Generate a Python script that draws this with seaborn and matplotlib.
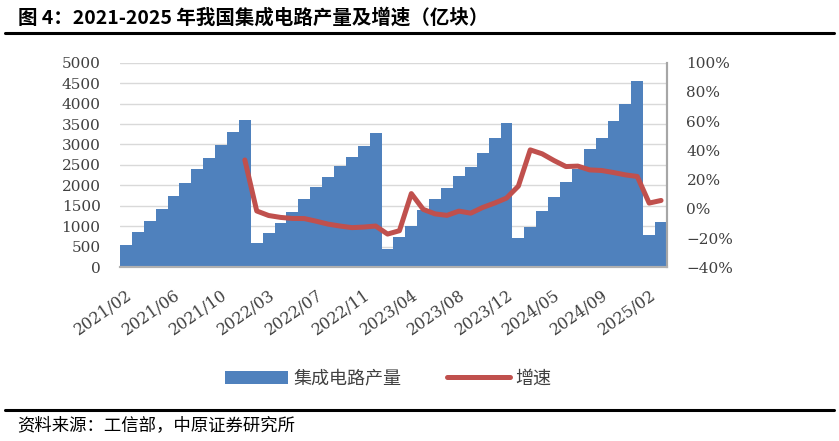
import numpy as np
import pandas as pd
import matplotlib
matplotlib.use('Agg')
import matplotlib.pyplot as plt
from matplotlib.lines import Line2D
from matplotlib.patches import Patch
from matplotlib.ticker import FuncFormatter, MultipleLocator
import seaborn as sns

# months (Jan merged into Feb, as in the MIIT data)
months = ([f"2021/{m:02d}" for m in range(2, 13)] +
          [f"2022/{m:02d}" for m in range(2, 13)] +
          [f"2023/{m:02d}" for m in range(2, 13)] +
          [f"2024/{m:02d}" for m in range(2, 13)] +
          ["2025/02", "2025/03"])

# cumulative output, 100 million units
output = [550, 850, 1140, 1430, 1750, 2050, 2400, 2680, 2980, 3300, 3600,
          600, 830, 1090, 1345, 1660, 1970, 2215, 2485, 2705, 2970, 3275,
          450, 735, 1015, 1400, 1670, 1930, 2230, 2460, 2785, 3150, 3535,
          725, 995, 1385, 1725, 2090, 2410, 2885, 3165, 3575, 3990, 4545,
          790, 1115]

# cumulative growth, %, only from 2021/12
growth = ([None] * 10 + [33.4] +
          [-1.5, -4.6, -5.9, -6.6, -6.7, -8.5, -10.5, -11.8, -12.9, -12.5, -11.8] +
          [-17.3, -15.0, 10.4, -0.4, -3.5, -4.5, -1.6, -3.0, 0.9, 3.9, 7.3] +
          [15.5, 40.3, 37.6, 33.0, 28.9, 29.2, 26.6, 26.2, 24.8, 23.2, 22.1] +
          [3.9, 5.7])

tick_labels = ["2021/02", "2021/06", "2021/10", "2022/03", "2022/07", "2022/11",
               "2023/04", "2023/08", "2023/12", "2024/05", "2024/09", "2025/02"]

BLUE = '#4F81BD'
RED = '#C0504D'
TXT = '#404040'
SERIF = ['DejaVu Serif']
CJK = ['Noto Sans CJK SC', 'DejaVu Sans']

sns.set_style('white')
plt.rcParams['font.family'] = CJK

df = pd.DataFrame({'month': months, 'output': output, 'growth': growth})
df['pos'] = np.arange(len(df))
line_df = df.dropna(subset=['growth'])

fig = plt.figure(figsize=(8.39, 4.41), dpi=100)
ax = fig.add_axes([0.143, 0.394, 0.652, 0.464])

sns.barplot(data=df, x='month', y='output', color=BLUE, width=1.0,
            linewidth=0, saturation=1, ax=ax, zorder=2)
ax.set_ylim(0, 5000)
ax.yaxis.set_major_locator(MultipleLocator(500))
ax.set_xlim(-0.5, len(months) - 0.5)
ax.grid(axis='y', color='#d9d9d9', linewidth=1.0, zorder=0)
ax.set_axisbelow(True)
ax.set_xlabel('')
ax.set_ylabel('')

# x ticks every 4 months
tick_pos = [months.index(t) for t in tick_labels]
ax.set_xticks(tick_pos)
ax.set_xticklabels(tick_labels, rotation=35, ha='right', rotation_mode='anchor',
                   family=SERIF, fontsize=11.5, color=TXT)
ax.tick_params(axis='x', length=0, pad=14)
ax.tick_params(axis='y', length=0, pad=14, labelsize=11, labelcolor=TXT)
for lab in ax.get_yticklabels():
    lab.set_family(SERIF)

ax2 = ax.twinx()
sns.lineplot(data=line_df, x='pos', y='growth', color=RED, linewidth=3.6,
             ax=ax2, solid_joinstyle='round', solid_capstyle='round', zorder=3)
ax2.set_ylim(-40, 100)
ax2.yaxis.set_major_locator(MultipleLocator(20))
ax2.yaxis.set_major_formatter(FuncFormatter(lambda v, p: f"{v:.0f}%".replace('-', '\u2212')))
ax2.tick_params(axis='y', length=0, pad=14, labelsize=11, labelcolor=TXT)
for lab in ax2.get_yticklabels():
    lab.set_family(SERIF)
ax2.set_ylabel('')
ax2.set_xlabel('')
ax2.set_xlim(-0.5, len(months) - 0.5)

for a in (ax, ax2):
    for s in ('top', 'left'):
        a.spines[s].set_visible(False)
    a.spines['bottom'].set_color('#b0b0b0')
    a.spines['right'].set_color('#a6a6a6')
    a.spines['bottom'].set_linewidth(1.5)
    a.spines['right'].set_linewidth(1.5)
ax2.grid(False)

# legend
handles = [Patch(facecolor=BLUE, edgecolor='none', label='集成电路产量'),
           Line2D([], [], color=RED, linewidth=3.6, solid_capstyle='round', label='增速')]
fig.legend(handles=handles, loc='center', bbox_to_anchor=(0.463, 0.141), ncol=2,
           frameon=False, fontsize=13, handlelength=3.5, handleheight=0.72,
           columnspacing=2.5, handletextpad=0.3, labelcolor=TXT)

# title, rules and source
fig.text(0.022, 0.959, '图 4：2021-2025 年我国集成电路产量及增速（亿块）',
         fontsize=14, fontweight='bold', color='black', va='center', ha='left')
fig.add_artist(Line2D([0.006, 0.994], [0.926, 0.926], transform=fig.transFigure,
                      color='black', linewidth=2.2))
fig.add_artist(Line2D([0.006, 0.994], [0.071, 0.071], transform=fig.transFigure,
                      color='black', linewidth=2.2))
fig.text(0.021, 0.036, '资料来源：工信部，中原证券研究所', fontsize=12.5,
         color='black', va='center', ha='left')

fig.savefig('out.png', dpi=100)
